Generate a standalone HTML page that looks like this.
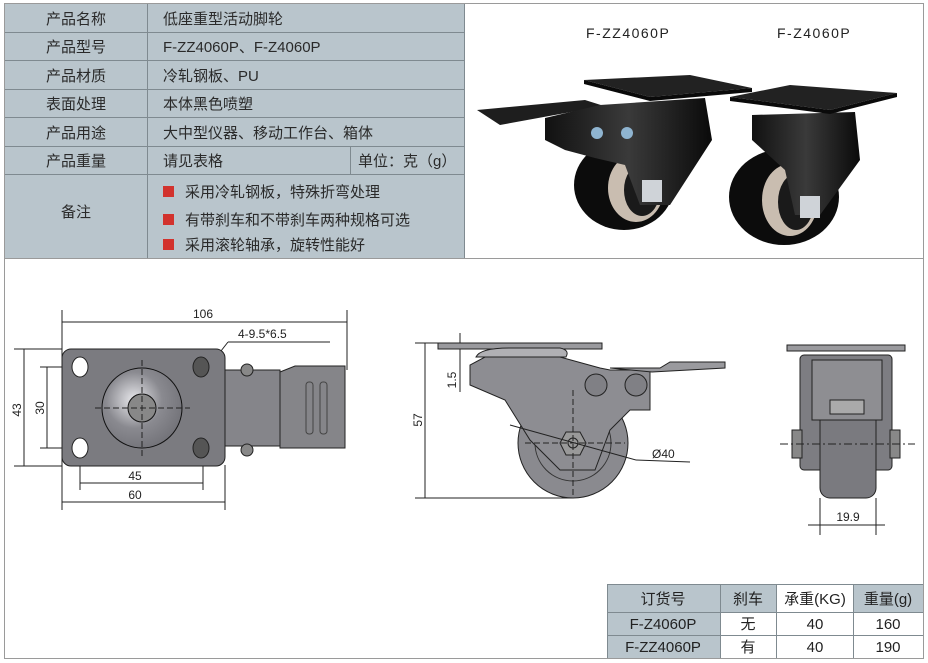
<!DOCTYPE html>
<html><head><meta charset="utf-8"><style>
html,body{margin:0;padding:0;background:#fff;}
svg{display:block;}
text{font-family:"Liberation Sans","Noto Sans CJK SC",sans-serif;}
</style></head><body>
<svg width="928" height="663" viewBox="0 0 928 663" xmlns="http://www.w3.org/2000/svg">
<defs>
<radialGradient id="rg" cx="0.4" cy="0.4" r="0.7"><stop offset="0" stop-color="#e8e8ec"/><stop offset="0.5" stop-color="#8a8a90"/><stop offset="1" stop-color="#6e6e74"/></radialGradient>
<linearGradient id="bk" x1="0" x2="1"><stop offset="0" stop-color="#111"/><stop offset="0.5" stop-color="#3a3a3a"/><stop offset="1" stop-color="#0a0a0a"/></linearGradient>
</defs>
<rect x="4.5" y="3.5" width="919" height="655" fill="#fff" stroke="#9a9a9a"/>
<line x1="4" y1="258.5" x2="924" y2="258.5" stroke="#9a9a9a"/>
<rect x="5" y="4" width="459" height="254" fill="#b9c5cc"/>
<g stroke="#7f8a90" stroke-width="1">
<line x1="5" y1="32.5" x2="464" y2="32.5"/><line x1="5" y1="60.5" x2="464" y2="60.5"/>
<line x1="5" y1="89.5" x2="464" y2="89.5"/><line x1="5" y1="117.5" x2="464" y2="117.5"/>
<line x1="5" y1="146.5" x2="464" y2="146.5"/><line x1="5" y1="174.5" x2="464" y2="174.5"/>
<line x1="147.5" y1="4" x2="147.5" y2="258"/><line x1="350.5" y1="146" x2="350.5" y2="174"/>
<line x1="464.5" y1="4" x2="464.5" y2="258"/>
</g>
<g font-size="15" fill="#2a2a2a">
<text x="76" y="24" text-anchor="middle">产品名称</text>
<text x="76" y="52" text-anchor="middle">产品型号</text>
<text x="76" y="81" text-anchor="middle">产品材质</text>
<text x="76" y="109" text-anchor="middle">表面处理</text>
<text x="76" y="138" text-anchor="middle">产品用途</text>
<text x="76" y="166" text-anchor="middle">产品重量</text>
<text x="76" y="217" text-anchor="middle">备注</text>
<text x="163" y="24">低座重型活动脚轮</text>
<text x="163" y="52">F-ZZ4060P、F-Z4060P</text>
<text x="163" y="81">冷轧钢板、PU</text>
<text x="163" y="109">本体黑色喷塑</text>
<text x="163" y="138">大中型仪器、移动工作台、箱体</text>
<text x="163" y="166">请见表格</text>
<text x="358" y="166">单位：克（g）</text>
<text x="185" y="197">采用冷轧钢板，特殊折弯处理</text>
<text x="185" y="225">有带刹车和不带刹车两种规格可选</text>
<text x="185" y="250">采用滚轮轴承，旋转性能好</text>
</g>
<rect x="163" y="186" width="11" height="11" fill="#d2322d"/>
<rect x="163" y="214" width="11" height="11" fill="#d2322d"/>
<rect x="163" y="239" width="11" height="11" fill="#d2322d"/>
<g font-size="14" fill="#222" letter-spacing="1.5">
<text x="586" y="38">F-ZZ4060P</text><text x="777" y="38">F-Z4060P</text>
</g>
<!-- caster 1 photo -->
<ellipse cx="624" cy="185" rx="50" ry="45" fill="#0c0c0c"/>
<ellipse cx="636" cy="188" rx="28" ry="34" fill="#c9bdb0"/>
<ellipse cx="642" cy="190" rx="18" ry="26" fill="#1a1a1a"/>
<polygon points="477,110 585,100 604,106 500,125" fill="#1e1e1e"/>
<path d="M545,118 L600,105 L705,98 L712,140 L670,205 L640,205 L625,165 L595,158 L565,150 L545,140 Z" fill="url(#bk)"/>
<polygon points="584,80 690,75 752,88 650,97" fill="#222"/>
<polygon points="584,80 650,97 752,88 752,92 650,101 584,84" fill="#0a0a0a"/>
<circle cx="597" cy="133" r="6" fill="#8fb4d0"/><circle cx="627" cy="133" r="6" fill="#8fb4d0"/>
<rect x="642" y="180" width="20" height="22" fill="#cfd3d8"/>
<!-- caster 2 photo -->
<ellipse cx="784" cy="197" rx="55" ry="48" fill="#0c0c0c"/>
<ellipse cx="790" cy="200" rx="28" ry="36" fill="#c9bdb0"/>
<ellipse cx="796" cy="202" rx="18" ry="28" fill="#1a1a1a"/>
<path d="M752,115 L855,112 L860,160 L820,215 L795,215 L785,170 L752,140 Z" fill="url(#bk)"/>
<polygon points="730,97 790,85 897,93 830,110" fill="#222"/>
<polygon points="730,97 830,110 897,93 897,97 830,114 730,101" fill="#0a0a0a"/>
<rect x="800" y="196" width="20" height="22" fill="#cfd3d8"/>
<!-- LEFT DRAWING -->
<g stroke="#222" stroke-width="1" fill="none">
<line x1="62" y1="310" x2="62" y2="510"/><line x1="347" y1="310" x2="347" y2="370"/>
<line x1="62" y1="322" x2="347" y2="322"/>
<line x1="225" y1="465" x2="225" y2="510"/><line x1="80" y1="448" x2="80" y2="490"/><line x1="203" y1="448" x2="203" y2="490"/>
<line x1="80" y1="483" x2="203" y2="483"/><line x1="62" y1="502" x2="225" y2="502"/>
<line x1="14" y1="349" x2="62" y2="349"/><line x1="14" y1="466" x2="62" y2="466"/>
<line x1="24" y1="349" x2="24" y2="466"/>
<line x1="40" y1="367" x2="80" y2="367"/><line x1="40" y1="448" x2="80" y2="448"/>
<line x1="47" y1="367" x2="47" y2="448"/>
<line x1="210" y1="365" x2="228" y2="342"/><line x1="228" y1="342" x2="330" y2="342"/>
</g>
<g font-size="12" fill="#222">
<text x="203" y="318" text-anchor="middle">106</text>
<text x="238" y="338">4-9.5*6.5</text>
<text x="135" y="480" text-anchor="middle">45</text>
<text x="135" y="499" text-anchor="middle">60</text>
<text transform="translate(21,410) rotate(-90)" text-anchor="middle">43</text>
<text transform="translate(44,408) rotate(-90)" text-anchor="middle">30</text>
</g>
<rect x="62" y="349" width="163" height="117" rx="9" fill="#7b7b80" stroke="#222"/>
<rect x="225" y="370" width="55" height="76" fill="#85858a" stroke="#222"/>
<path d="M280,372 L295,366 L345,366 L345,448 L280,448 Z" fill="#858589" stroke="#222"/>
<rect x="306" y="382" width="7" height="52" rx="3" fill="none" stroke="#444"/>
<rect x="320" y="382" width="7" height="52" rx="3" fill="none" stroke="#444"/>
<circle cx="247" cy="370" r="6" fill="#888" stroke="#222"/><circle cx="247" cy="450" r="6" fill="#888" stroke="#222"/>
<ellipse cx="142" cy="408" rx="40" ry="40" fill="url(#rg)" stroke="#111"/>
<circle cx="142" cy="408" r="14" fill="#888" stroke="#111"/>
<g fill="#fff" stroke="#222"><ellipse cx="80" cy="367" rx="8" ry="10"/><ellipse cx="80" cy="448" rx="8" ry="10"/></g>
<g fill="#555" stroke="#222"><ellipse cx="201" cy="367" rx="8" ry="10"/><ellipse cx="201" cy="448" rx="8" ry="10"/></g>
<g stroke="#222" stroke-dasharray="6,3"><line x1="95" y1="408" x2="190" y2="408"/><line x1="142" y1="360" x2="142" y2="458"/></g>
<!-- MIDDLE DRAWING -->
<g stroke="#222" fill="none">
<line x1="415" y1="343" x2="438" y2="343"/><line x1="415" y1="498" x2="573" y2="498"/>
<line x1="425" y1="343" x2="425" y2="498"/>
<line x1="460" y1="333" x2="460" y2="392"/>
</g>
<g font-size="12" fill="#222">
<text transform="translate(422,420) rotate(-90)" text-anchor="middle">57</text>
<text transform="translate(456,380) rotate(-90)" text-anchor="middle">1.5</text>
<text x="652" y="458">Ø40</text>
</g>
<circle cx="573" cy="443" r="55" fill="#8a8a8f" stroke="#222"/>
<circle cx="573" cy="443" r="38" fill="none" stroke="#333"/>
<path d="M485,357 L560,357 L600,368 L610,370 L650,370 L650,410 L630,410 L610,430 L595,470 L560,470 L530,440 L505,400 L470,385 L470,365 Z" fill="#8d8d92" stroke="#222"/>
<rect x="438" y="343" width="164" height="6" fill="#9a9a9e" stroke="#222"/>
<path d="M476,357 Q480,348 510,348 L560,348 Q570,350 566,357 Z" fill="#b0b0b4" stroke="#222"/>
<path d="M610,368 L660,368 L670,362 L725,362 L725,368 L652,372 Z" fill="#9a9a9e" stroke="#222"/>
<circle cx="596" cy="385" r="11" fill="#808085" stroke="#222"/><circle cx="636" cy="385" r="11" fill="#808085" stroke="#222"/>
<polygon points="566,432 580,432 586,443 580,455 566,455 560,443" fill="#999" stroke="#222"/>
<circle cx="573" cy="443" r="5" fill="none" stroke="#222"/>
<g stroke="#222" fill="none"><line x1="510" y1="425" x2="636" y2="460"/><line x1="636" y1="460" x2="690" y2="462"/>
<line x1="573" y1="390" x2="573" y2="498" stroke-dasharray="6,3"/><line x1="525" y1="443" x2="625" y2="443" stroke-dasharray="6,3"/></g>
<!-- RIGHT DRAWING -->
<rect x="787" y="345" width="118" height="6" fill="#9a9a9e" stroke="#222"/>
<rect x="800" y="355" width="92" height="115" rx="4" fill="#7d7d82" stroke="#222"/>
<rect x="820" y="360" width="56" height="138" rx="10" fill="#7a7a7f" stroke="#222"/>
<rect x="812" y="360" width="70" height="60" fill="#8e8e92" stroke="#222"/>
<rect x="830" y="400" width="34" height="14" fill="#aaa" stroke="#222"/>
<rect x="792" y="430" width="10" height="28" fill="#888" stroke="#222"/><rect x="890" y="430" width="10" height="28" fill="#888" stroke="#222"/>
<g stroke="#222" fill="none">
<line x1="780" y1="444" x2="915" y2="444" stroke-dasharray="8,3,2,3"/>
<line x1="820" y1="498" x2="820" y2="535"/><line x1="876" y1="498" x2="876" y2="535"/>
<line x1="808" y1="525" x2="885" y2="525"/>
</g>
<text x="848" y="521" font-size="12" fill="#222" text-anchor="middle">19.9</text>
<rect x="607" y="584" width="316" height="74" fill="#fff"/>
<rect x="607" y="584" width="113" height="74" fill="#b9c5cc"/>
<rect x="720" y="584" width="56" height="28" fill="#b9c5cc"/>
<rect x="853" y="584" width="70" height="28" fill="#b9c5cc"/>
<g stroke="#7f8a90"><line x1="607" y1="612.5" x2="923" y2="612.5"/><line x1="607" y1="635.5" x2="923" y2="635.5"/>
<line x1="607.5" y1="584" x2="607.5" y2="658"/><line x1="720.5" y1="584" x2="720.5" y2="658"/><line x1="776.5" y1="584" x2="776.5" y2="658"/><line x1="853.5" y1="584" x2="853.5" y2="658"/><line x1="607" y1="584.5" x2="923" y2="584.5"/></g>
<g font-size="15" fill="#222" text-anchor="middle">
<text x="663" y="604">订货号</text><text x="748" y="604">刹车</text><text x="815" y="604">承重(KG)</text><text x="888" y="604">重量(g)</text>
<text x="663" y="629">F-Z4060P</text><text x="748" y="629">无</text><text x="815" y="629">40</text><text x="888" y="629">160</text>
<text x="663" y="652">F-ZZ4060P</text><text x="748" y="652">有</text><text x="815" y="652">40</text><text x="888" y="652">190</text>
</g>
</svg>
</body></html>
